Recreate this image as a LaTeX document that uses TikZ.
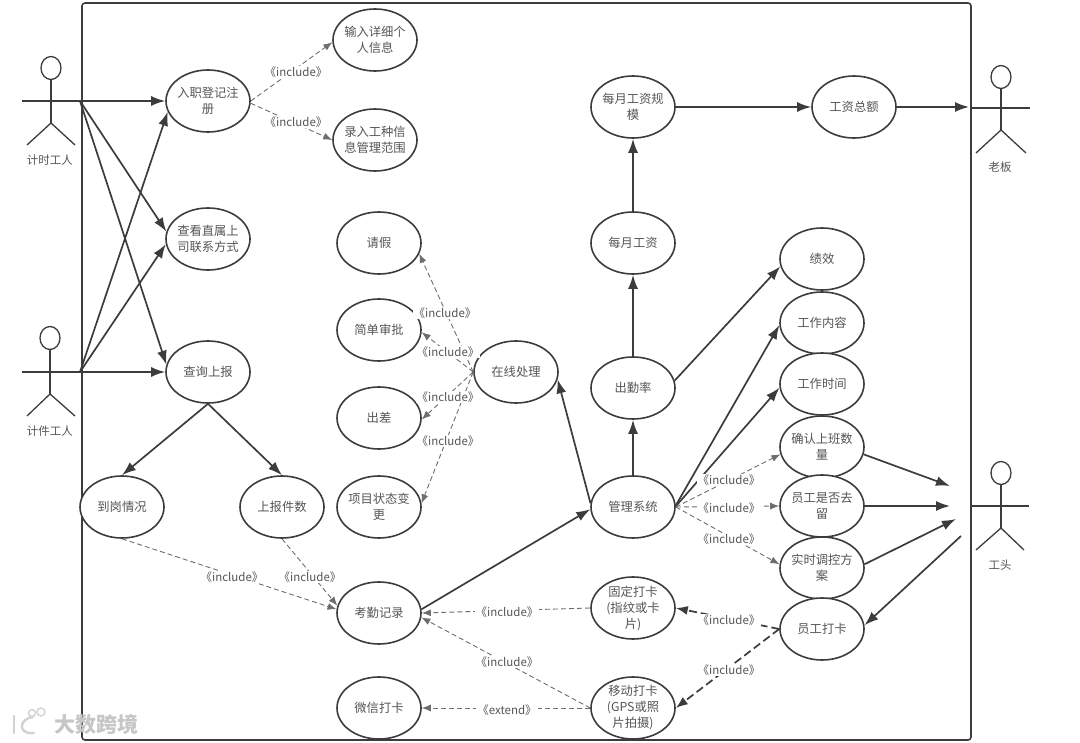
\documentclass[tikz,border=0pt]{standalone}
\usepackage{fontspec}
\setmainfont{Noto Sans CJK SC}
\usetikzlibrary{shapes.geometric,arrows.meta}
\definecolor{linec}{HTML}{3C3C3C}
\definecolor{textc}{HTML}{555555}
\tikzset{
  usecase/.style={ellipse, draw=linec, line width=1.6pt, fill=white, minimum width=84pt, minimum height=62pt, inner sep=-2.5pt, align=center, text=textc, font=\fontsize{12.3}{16}\selectfont},
  actorhead/.style={ellipse, draw=linec, line width=1.3pt, minimum width=20pt, minimum height=23pt, inner sep=0pt},
  actorline/.style={draw=linec, line width=1.3pt},
  actorname/.style={text=textc, inner sep=0pt, font=\fontsize{11.5}{14}\selectfont},
  solidarrow/.style={draw=linec, line width=1.7pt, -{Latex[length=14pt,width=10pt]}},
  dasharrow/.style={draw=linec!75, line width=0.9pt, dash pattern=on 5pt off 3pt, -{Latex[length=9pt,width=7pt]}},
  heavydash/.style={draw=linec, line width=1.7pt, dash pattern=on 8pt off 4pt, -{Latex[length=12pt,width=9pt]}},
  inclabel/.style={fill=white, text=textc, inner sep=1pt, font=\fontsize{11.5}{13}\selectfont},
}
\begin{document}
\begin{tikzpicture}[x=1pt,y=-1pt]
\useasboundingbox (0,0) rectangle (1080,743);
\draw[linec, line width=1.6pt, rounded corners=3pt] (82,3) rectangle (971,740);

\node[actorhead] (head1) at (51,68){};
\node[actorhead] (head2) at (50,338){};
\node[actorhead] (head3) at (1001,77){};
\node[actorhead] (head4) at (1001,473){};
\coordinate (hand1) at (80,101);
\coordinate (hand2) at (80,372);
\draw[actorline] (22,101) -- (hand1);
\draw[actorline] (head1) -- (51,123);
\draw[actorline] (27,145) -- (51,123) -- (75,145);
\draw[actorline] (22,372) -- (hand2);
\draw[actorline] (head2) -- (50,394);
\draw[actorline] (27,416) -- (50,394) -- (75,416);
\draw[actorline] (971,108) -- (1030,108);
\draw[actorline] (head3) -- (1001,130);
\draw[actorline] (976,153) -- (1001,130) -- (1026,153);
\draw[actorline] (971,506) -- (1029,506);
\draw[actorline] (head4) -- (1001,528);
\draw[actorline] (976,550) -- (1001,528) -- (1024,550);
\node[actorname] (name1) at (50,160){计时工人};
\node[actorname] (name2) at (50,431){计件工人};
\node[actorname] (name3) at (1000,167){老板};
\node[actorname] (name4) at (1000,565){工头};

\node[usecase] (ruzhi) at (208,101){入职登记注\\册};
\node[usecase] (shuru) at (375,40){输入详细个\\人信息};
\node[usecase] (luru) at (375,140){录入工种信\\息管理范围};
\node[usecase] (chakan) at (208,239){查看直属上\\司联系方式};
\node[usecase] (chaxun) at (208,372){查询上报};
\node[usecase] (daogang) at (122,507){到岗情况};
\node[usecase] (shangbao) at (282,507){上报件数};
\node[usecase] (qingjia) at (379,243){请假};
\node[usecase] (shenpi) at (379,330){简单审批};
\node[usecase] (chuchai) at (379,418){出差};
\node[usecase] (xiangmu) at (379,507){项目状态变\\更};
\node[usecase] (zaixian) at (516,372){在线处理};
\node[usecase] (kaoqin) at (379,613){考勤记录};
\node[usecase] (weixin) at (379,708){微信打卡};
\node[usecase] (guimo) at (633,107){每月工资规\\模};
\node[usecase] (gongzi) at (633,243){每月工资};
\node[usecase] (chuqin) at (633,388){出勤率};
\node[usecase] (guanli) at (633,507){管理系统};
\node[usecase] (guding) at (633,608){固定打卡\\(指纹或卡\\片)};
\node[usecase] (yidong) at (633,708){移动打卡\\(GPS或照\\片拍摄)};
\node[usecase] (zonge) at (854,107){工资总额};
\node[usecase] (jixiao) at (822,259){绩效};
\node[usecase] (neirong) at (822,323){工作内容};
\node[usecase] (shijian) at (822,384){工作时间};
\node[usecase] (queren) at (822,447){确认上班数\\量};
\node[usecase] (quliu) at (822,506){员工是否去\\留};
\node[usecase] (tiaokong) at (822,568){实时调控方\\案};
\node[usecase] (daka) at (822,629){员工打卡};

\coordinate (boss) at (969,107);
\coordinate (in1) at (950,486);
\coordinate (in2) at (950,506);
\coordinate (in3) at (956,519);
\coordinate (out1) at (961,536);

\draw[solidarrow] (hand1) -- (ruzhi.180);
\draw[solidarrow] (hand1) -- (chakan.170);
\draw[solidarrow] (hand1) -- (chaxun.170);
\draw[solidarrow] (hand2) -- (ruzhi.195);
\draw[solidarrow] (hand2) -- (chakan.187);
\draw[solidarrow] (hand2) -- (chaxun.180);
\draw[solidarrow] (chaxun.270) -- (daogang.90);
\draw[solidarrow] (chaxun.270) -- (shangbao.90);
\draw[solidarrow] (kaoqin.5) -- (guanli.183);
\draw[solidarrow] (guanli.175) -- (zaixian.350);
\draw[solidarrow] (guanli) -- (chuqin);
\draw[solidarrow] (chuqin) -- (gongzi);
\draw[solidarrow] (gongzi) -- (guimo);
\draw[solidarrow] (guimo) -- (zonge);
\draw[solidarrow] (zonge) -- (boss);
\draw[solidarrow] (chuqin.10) -- (jixiao.190);
\draw[solidarrow] (guanli.2) -- (neirong.183);
\draw[solidarrow] (guanli.1) -- (shijian.185);
\draw[solidarrow] (queren.350) -- (in1);
\draw[solidarrow] (quliu.0) -- (in2);
\draw[solidarrow] (tiaokong.5) -- (in3);
\draw[solidarrow] (out1) -- (daka.5);

\draw[dasharrow] (ruzhi.0) -- (shuru.183);
\draw[dasharrow] (ruzhi.357) -- (luru.180);
\draw[dasharrow] (zaixian.180) -- (qingjia.345);
\draw[dasharrow] (zaixian.180) -- (shenpi.357);
\draw[dasharrow] (zaixian.180) -- (chuchai.358);
\draw[dasharrow] (zaixian.180) -- (xiangmu.5);
\draw[dasharrow] (daogang.270) -- (kaoqin.175);
\draw[dasharrow] (shangbao.270) -- (kaoqin.170);
\draw[dasharrow] (guanli.0) -- (queren.190);
\draw[dasharrow] (guanli.0) -- (quliu.180);
\draw[dasharrow] (guanli.0) -- (tiaokong.175);
\draw[dasharrow] (guding.180) -- (kaoqin.0);
\draw[dasharrow] (yidong.180) -- (kaoqin.354);
\draw[dasharrow] (yidong.180) -- (weixin.0);
\draw[heavydash] (daka.180) -- (guding.0);
\draw[heavydash] (daka.180) -- (yidong.0);

\node[inclabel] (lab1) at (296,72){《include》};
\node[inclabel] (lab2) at (296,122){《include》};
\node[inclabel] (lab3) at (445,313){《include》};
\node[inclabel] (lab4) at (448,352){《include》};
\node[inclabel] (lab5) at (448,397){《include》};
\node[inclabel] (lab6) at (448,441){《include》};
\node[inclabel] (lab7) at (729,480){《include》};
\node[inclabel] (lab8) at (729,508){《include》};
\node[inclabel] (lab9) at (729,539){《include》};
\node[inclabel] (lab10) at (729,620){《include》};
\node[inclabel] (lab11) at (729,670){《include》};
\node[inclabel] (lab12) at (232,577){《include》};
\node[inclabel] (lab13) at (310,577){《include》};
\node[inclabel] (lab14) at (507,612){《include》};
\node[inclabel] (lab15) at (507,662){《include》};
\node[inclabel] (lab16) at (507,710){《extend》};

\node[text=gray!45, inner sep=0pt, font=\fontsize{21}{24}\selectfont\bfseries] (mark) at (96,724){大数跨境};
\draw[gray!35, line width=2.4pt, line cap=round] (14,716) -- (14,733);
\draw[gray!35, line width=2.4pt, line cap=round] (33,717) .. controls (18,719) and (18,735) .. (34,733);
\draw[gray!35, line width=1.4pt] (32,713) circle (3.5pt);
\draw[gray!35, line width=1.4pt] (41,712) circle (4pt);
\end{tikzpicture}
\end{document}
